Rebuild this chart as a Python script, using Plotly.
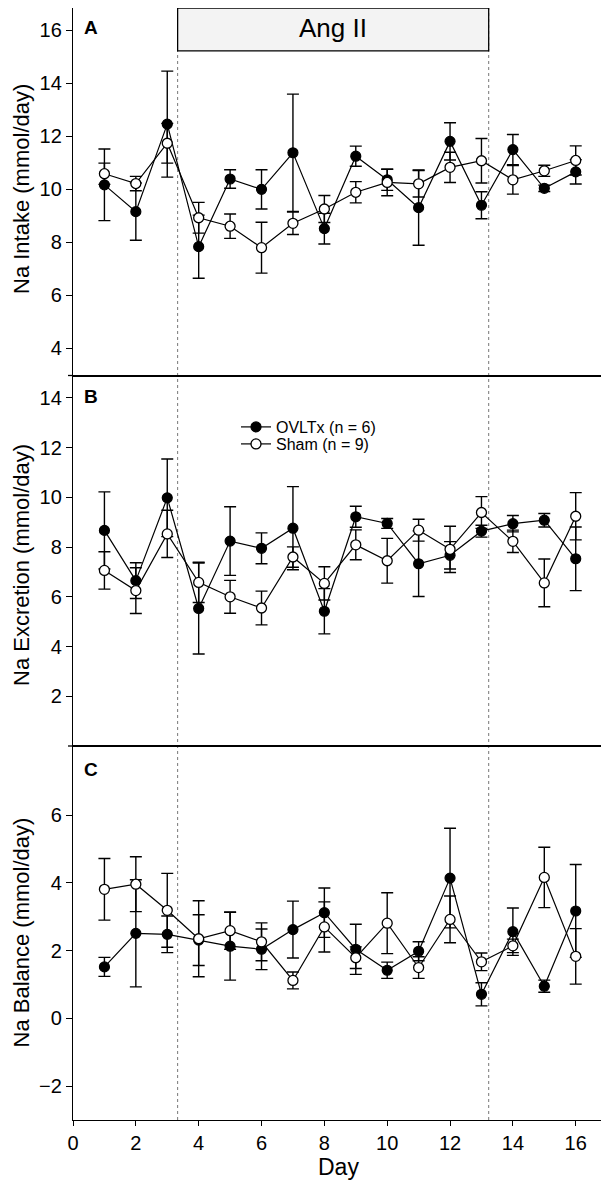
import plotly.graph_objects as go
from plotly.subplots import make_subplots

days = list(range(1, 17))

intake_ovltx = [10.16, 9.15, 12.45, 7.83, 10.38, 9.99, 11.37, 8.51, 11.24, 10.35, 9.30, 11.80, 9.39, 11.49, 10.03, 10.65]
intake_ovltx_se = [1.35, 1.08, 2.0, 1.19, 0.35, 0.74, 2.21, 0.58, 0.38, 0.40, 1.42, 0.70, 0.51, 0.57, 0.12, 0.46]
intake_sham = [10.58, 10.21, 11.73, 8.92, 8.60, 7.79, 8.71, 9.25, 9.88, 10.25, 10.20, 10.82, 11.07, 10.35, 10.69, 11.08]
intake_sham_se = [0.40, 0.27, 0.75, 0.58, 0.46, 0.96, 0.42, 0.51, 0.40, 0.50, 0.50, 0.57, 0.84, 0.54, 0.21, 0.55]

excr_ovltx = [8.67, 6.65, 9.98, 5.53, 8.24, 7.95, 8.76, 5.42, 9.22, 8.95, 7.33, 7.67, 8.64, 8.94, 9.08, 7.53]
excr_ovltx_se = [1.55, 0.72, 1.56, 1.83, 1.38, 0.62, 1.67, 0.91, 0.42, 0.20, 1.32, 0.55, 0.24, 0.33, 0.27, 1.28]
excr_sham = [7.06, 6.25, 8.53, 6.58, 6.00, 5.55, 7.60, 6.54, 8.09, 7.45, 8.68, 7.91, 9.39, 8.23, 6.56, 9.24]
excr_sham_se = [0.75, 0.92, 0.95, 0.81, 0.66, 0.68, 0.41, 0.67, 0.60, 0.90, 0.44, 0.93, 0.64, 0.45, 0.96, 0.95]

bal_ovltx = [1.52, 2.51, 2.48, 2.31, 2.13, 2.04, 2.62, 3.12, 2.04, 1.42, 1.98, 4.14, 0.71, 2.56, 0.95, 3.17]
bal_ovltx_se = [0.28, 1.58, 0.54, 0.75, 1.0, 0.6, 0.84, 0.73, 0.74, 0.24, 0.28, 1.47, 0.34, 0.70, 0.18, 1.37]
bal_sham = [3.81, 3.96, 3.19, 2.35, 2.59, 2.26, 1.12, 2.70, 1.79, 2.81, 1.50, 2.92, 1.67, 2.14, 4.16, 1.83]
bal_sham_se = [0.91, 0.81, 1.09, 1.12, 0.55, 0.56, 0.25, 0.74, 0.32, 0.90, 0.32, 0.69, 0.26, 0.20, 0.89, 0.82]

panel_labels = ["A", "B", "C"]
y_titles = ["Na Intake (mmol/day)", "Na Excretion (mmol/day)", "Na Balance (mmol/day)"]
y_ranges = [[2.97, 16.83], [0, 14.9], [-3.0, 8.04]]
y_ticks = [[4, 6, 8, 10, 12, 14, 16], [2, 4, 6, 8, 10, 12, 14], [-2, 0, 2, 4, 6]]
x_ticks = [0, 2, 4, 6, 8, 10, 12, 14, 16]
angii_start, angii_end = 3.33, 13.23

FONT = "Liberation Sans, Arial, sans-serif"

panels = [
    (intake_ovltx, intake_ovltx_se, intake_sham, intake_sham_se),
    (excr_ovltx, excr_ovltx_se, excr_sham, excr_sham_se),
    (bal_ovltx, bal_ovltx_se, bal_sham, bal_sham_se),
]

# figure is placed 8px into the page; plot area spans fig y 0..1112
H_PLOT = 1112.0
L, W_PLOT = 65.0, 531.0


def py(fig_y):
    return (H_PLOT - fig_y) / H_PLOT


def px(fig_x):
    return (fig_x - L) / W_PLOT


fig = make_subplots(rows=3, cols=1, shared_xaxes=True, vertical_spacing=0)

domains = [[py(367.5), 1.0], [py(738), py(367.5)], [0.0, py(738)]]

for i, (ov, ov_se, sh, sh_se) in enumerate(panels):
    r = i + 1
    show_leg = (i == 1)
    for vals, se in ((ov, ov_se), (sh, sh_se)):
        fig.add_trace(go.Scatter(
            x=days, y=vals, mode="markers",
            marker=dict(size=1, color="rgba(0,0,0,0)"),
            error_y=dict(type="data", array=se, visible=True, color="black",
                         thickness=1.4, width=6),
            showlegend=False, hoverinfo="skip"), row=r, col=1)
    fig.add_trace(go.Scatter(
        x=days, y=ov, mode="lines+markers", name="OVLTx (n = 6)",
        line=dict(color="black", width=1.2),
        marker=dict(size=10, color="black", line=dict(color="black", width=1.2)),
        legend="legend", showlegend=show_leg), row=r, col=1)
    fig.add_trace(go.Scatter(
        x=days, y=sh, mode="lines+markers", name="Sham (n = 9)",
        line=dict(color="black", width=1.2),
        marker=dict(size=10, color="white", line=dict(color="black", width=1.3)),
        legend="legend2", showlegend=show_leg), row=r, col=1)

    fig.update_yaxes(row=r, col=1, range=y_ranges[i], tickvals=y_ticks[i],
                     domain=domains[i], showline=True, mirror=True,
                     linecolor="black", linewidth=1.3, ticks="outside",
                     ticklen=6, tickwidth=1.3, tickcolor="black",
                     showgrid=False, zeroline=False,
                     tickfont=dict(family=FONT, size=20, color="black"))
    fig.update_xaxes(row=r, col=1, range=[0, 16.9], showline=True, mirror=True,
                     linecolor="black", linewidth=1.3, showgrid=False,
                     zeroline=False, tickvals=x_ticks,
                     ticks="outside" if r == 3 else "",
                     ticklen=5, tickwidth=1.3, tickcolor="black",
                     showticklabels=(r == 3),
                     tickfont=dict(family=FONT, size=20, color="black"))

# y axis titles (fig y centers)
title_centers = [181, 557, 924.5]
for t, cy in zip(y_titles, title_centers):
    fig.add_annotation(text=t, xref="paper", yref="paper",
                       x=px(13), y=py(cy), xanchor="center", yanchor="middle",
                       textangle=-90, showarrow=False,
                       font=dict(family=FONT, size=22, color="black"))

# panel letters
label_fy = [19, 388.5, 761]
for lab, fy in zip(panel_labels, label_fy):
    fig.add_annotation(text="<b>%s</b>" % lab, xref="paper", yref="paper",
                       x=px(74), y=py(fy),
                       xanchor="left", yanchor="middle", showarrow=False,
                       font=dict(family=FONT, size=19, color="black"))

# dotted lines marking Ang II period
for xv in (angii_start, angii_end):
    fig.add_shape(type="line", xref="x3", yref="paper", x0=xv, x1=xv,
                  y0=0, y1=1, layer="below",
                  line=dict(color="#777777", width=1, dash="dot"))

# Ang II box
fig.add_shape(type="rect", xref="x", yref="y", x0=angii_start, x1=angii_end,
              y0=15.21, y1=16.83, fillcolor="#f3f3f3",
              line=dict(color="black", width=1.3), layer="above")
fig.add_annotation(text="Ang II", xref="x", yref="y",
                   x=(angii_start + angii_end) / 2, y=16.06,
                   xanchor="center", yanchor="middle", showarrow=False,
                   font=dict(family=FONT, size=26, color="black"))

# small left extensions of panel separators
for fy in (367.5, 738):
    fig.add_shape(type="line", xref="paper", yref="paper",
                  x0=px(60), x1=0, y0=py(fy), y1=py(fy),
                  line=dict(color="black", width=1.3))

fig.add_annotation(text="Day", xref="paper", yref="paper", x=0.5,
                   y=py(1159), xanchor="center", yanchor="middle",
                   showarrow=False, font=dict(family=FONT, size=23, color="black"))

leg_common = dict(xanchor="left", yanchor="top", bgcolor="rgba(0,0,0,0)",
                  font=dict(family=FONT, size=16, color="black"),
                  itemwidth=30, tracegroupgap=0)

fig.update_layout(
    width=601, height=1175,
    margin=dict(l=65, r=5, t=0, b=63),
    plot_bgcolor="white", paper_bgcolor="white",
    showlegend=True,
    legend=dict(x=px(228), y=py(402), **leg_common),
    legend2=dict(x=px(228), y=py(419), **leg_common),
    font=dict(family=FONT, color="black"),
)

fig.write_html("out.html")
